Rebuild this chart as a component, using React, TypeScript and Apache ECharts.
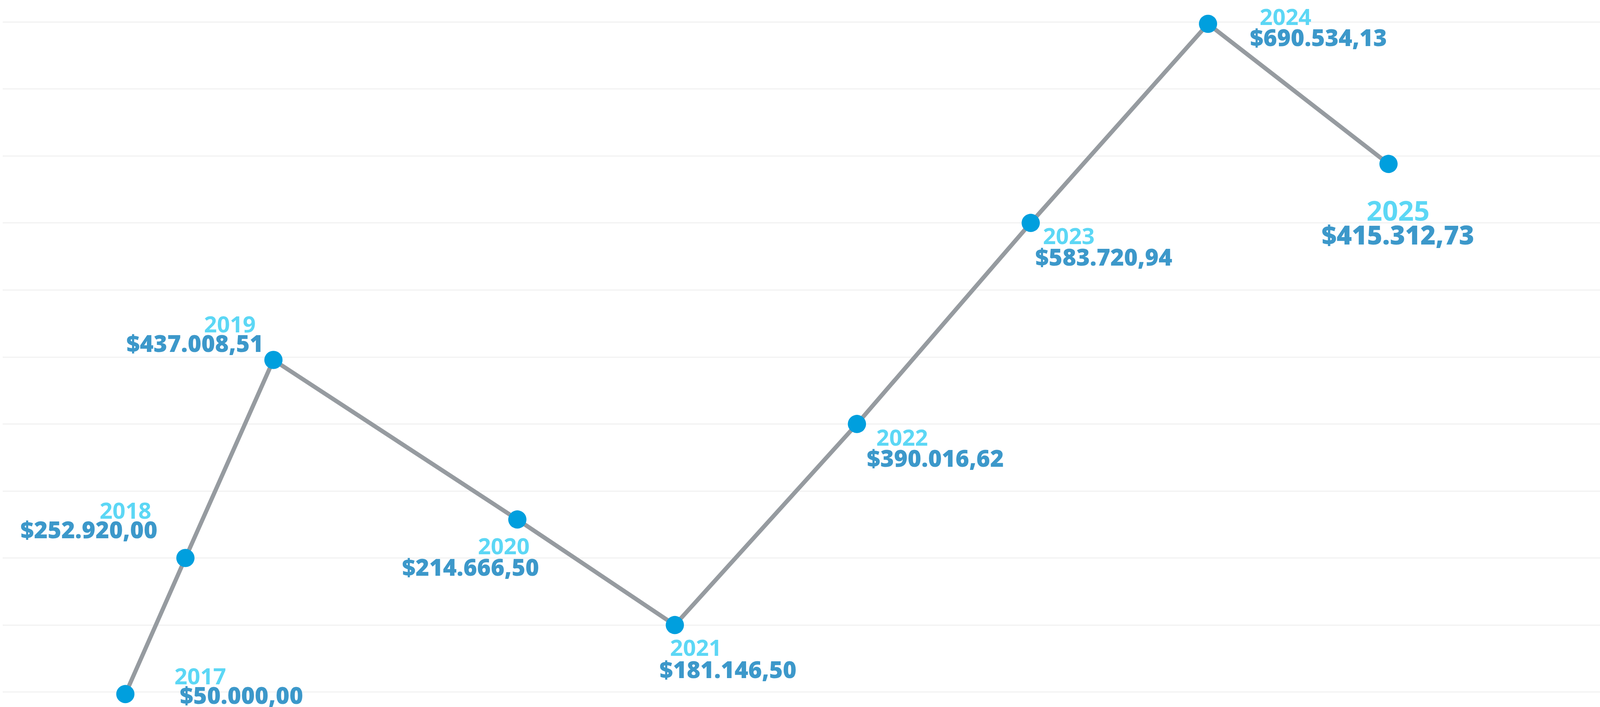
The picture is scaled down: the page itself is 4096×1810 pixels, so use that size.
import React, { useEffect, useRef } from "react";
import * as echarts from "echarts";

// ---- data ----
const years = ["2017", "2018", "2019", "2020", "2021", "2022", "2023", "2024", "2025"];
const amounts = [
  "$50.000,00",
  "$252.920,00",
  "$437.008,51",
  "$214.666,50",
  "$181.146,50",
  "$390.016,62",
  "$583.720,94",
  "$690.534,13",
  "$415.312,73",
];
// horizontal placement of each year along the timeline (0–100 scale)
const xPositions = [7.68, 11.44, 16.95, 32.22, 42.08, 53.48, 64.36, 75.46, 86.76];
// vertical level of each point on the chart's 0–10 grid scale
const plotLevels = [-0.03, 2.0, 4.955, 2.575, 1.0, 4.0, 7.0, 9.97, 7.88];
const yMin = 0;
const yMax = 10;
const yInterval = 1;

// ---- styles ----
const S = 0.981;
const GRID_COLOR = "#f2f2f2";
const LINE_COLOR = "#969ba0";
const DOT_COLOR = "#009fde";
const YEAR_COLOR = "#33cdf2";
const VALUE_COLOR = "#0b7ebd";
const FONT = "'Open Sans', 'Noto Sans', sans-serif";

// label offsets (reference px, relative to each point): [dx of text centre, dy of cap centre]
const yearOffsets = [
  [195.5, -48.2],
  [-156.5, -125.2],
  [-113.6, -94.6],
  [-35.5, 67.8],
  [55, 57],
  [118, 33.5],
  [99.4, 32.7],
  [202.3, -20.3],
  [25, 120.3],
];
const valueOffsets = [
  [303, 1.9],
  [-251.7, -75.5],
  [-205, -44.1],
  [-122, 123.4],
  [138.8, 114.6],
  [204.5, 88.7],
  [190.7, 87.7],
  [288, 34.4],
  [24.5, 184.8],
];
const yearFontSizes = [59, 59, 59, 59, 59, 59, 59, 59, 72];
const valueFontSizes = [61, 61, 61, 61, 61, 61, 61, 61, 68];

export default function App() {
  const ref = useRef<HTMLDivElement>(null);

  useEffect(() => {
    if (!ref.current) return;
    const chart = echarts.init(ref.current, null, { renderer: "svg" });

    const points = xPositions.map((x, i) => [x, plotLevels[i]]);

    const labelSeries = (
      texts: string[],
      offsets: number[][],
      sizes: number[],
      color: string,
      weight: number
    ) => ({
      type: "scatter",
      silent: true,
      clip: false,
      z: 5,
      symbolSize: 1,
      itemStyle: { color: "rgba(0,0,0,0)" },
      data: points.map((p, i) => ({
        value: p,
        label: {
          show: true,
          position: "inside",
          align: "center",
          verticalAlign: "middle",
          offset: [offsets[i][0] * S, offsets[i][1] * S],
          formatter: () => texts[i],
          color,
          fontFamily: FONT,
          fontWeight: weight,
          fontSize: sizes[i] * S,
        },
      })),
    });

    chart.setOption({
      animation: false,
      backgroundColor: "#ffffff",
      grid: {
        left: 7 * S,
        right: 0,
        top: 57 * S,
        bottom: 39 * S,
        containLabel: false,
      },
      xAxis: {
        type: "value",
        min: 0,
        max: 100,
        show: false,
        splitLine: { show: false },
      },
      yAxis: {
        type: "value",
        min: yMin,
        max: yMax,
        interval: yInterval,
        axisLine: { show: false },
        axisTick: { show: false },
        axisLabel: { show: false },
        splitLine: { show: true, lineStyle: { color: GRID_COLOR, width: 3.3 * S } },
      },
      series: [
        {
          type: "line",
          data: points,
          clip: false,
          z: 3,
          symbol: "circle",
          symbolSize: 47.5 * S,
          lineStyle: { color: LINE_COLOR, width: 11 * S },
          itemStyle: { color: DOT_COLOR, borderWidth: 0 },
          label: { show: false },
        },
        labelSeries(years, yearOffsets, yearFontSizes, YEAR_COLOR, 700),
        labelSeries(amounts, valueOffsets, valueFontSizes, VALUE_COLOR, 800),
      ],
    });

    return () => chart.dispose();
  }, []);

  return (
    <div
      ref={ref}
      style={{ position: "fixed", left: 0, top: 0, width: 4096, height: 1810, background: "#fff" }}
    />
  );
}
